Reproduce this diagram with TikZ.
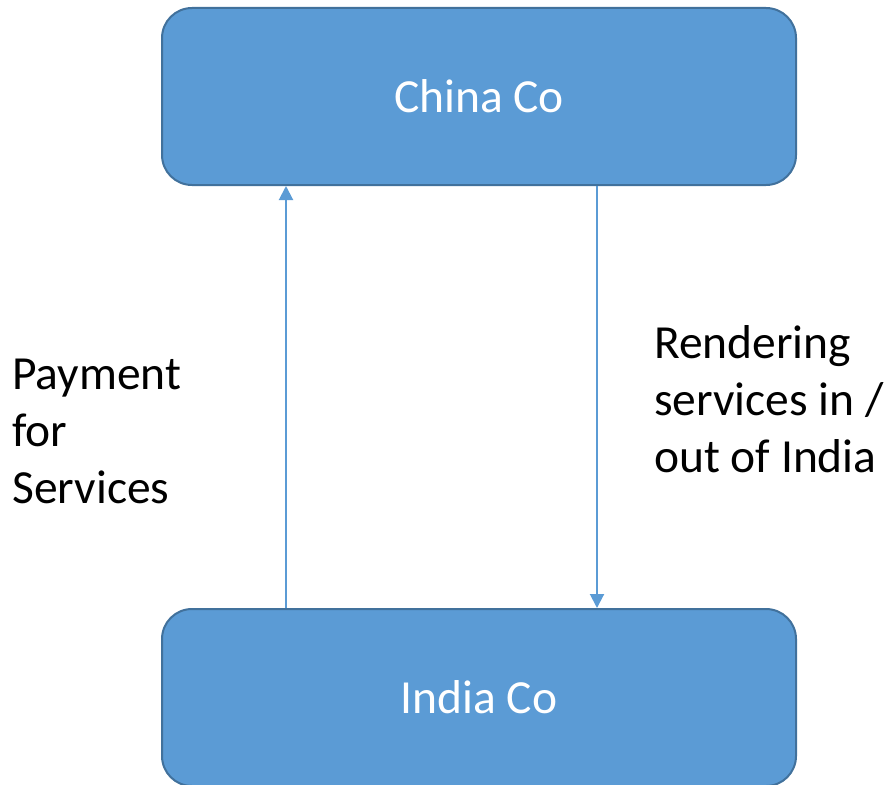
\documentclass[tikz,border=0pt]{standalone}
\usepackage{fontspec}
\setmainfont{Carlito}
\usetikzlibrary{arrows.meta,calc}
\definecolor{boxfill}{HTML}{5B9BD5}
\definecolor{boxline}{HTML}{41719C}
\definecolor{arrcol}{HTML}{5B9BD5}
\begin{document}
\begin{tikzpicture}[x=1pt,y=-1pt,
  co/.style={draw=boxline,line width=2pt,fill=boxfill,rounded corners=30pt,
    minimum width=634pt,inner sep=0pt,text=white,font=\fontsize{47.5}{57}\selectfont},
  arr/.style={draw=arrcol,line width=2pt,-{Triangle[width=14pt,length=14pt]}},
  lbl/.style={anchor=west,align=left,inner sep=0pt,font=\fontsize{47.5}{57}\selectfont}]
\useasboundingbox (0,0) rectangle (890,784);
\begin{scope}
\clip (0,0) rectangle (890,784);
\node[co,minimum height=177pt] (china) at (479,96.5) {China Co};
\node[co,minimum height=177pt] (india) at (479,697.5) {India Co};
\end{scope}
\coordinate (la) at (286,400);
\coordinate (ra) at (597,400);
\draw[arr] (india.north -| la) -- (china.south -| la);
\draw[arr] (china.south -| ra) -- (india.north -| ra);
\node[lbl] (pay) at (12,431) {Payment\\for\\Services};
\node[lbl] (rend) at (654,399) {Rendering\\services in /\\out of India};
\end{tikzpicture}
\end{document}
